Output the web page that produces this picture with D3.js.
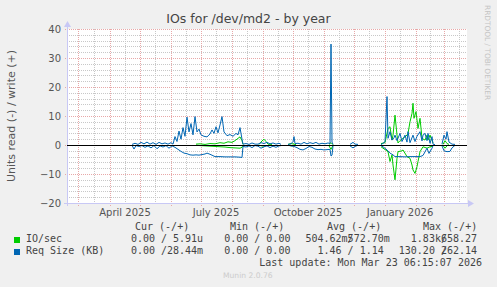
<!DOCTYPE html>
<html><head><meta charset="utf-8">
<script src="https://cdn.jsdelivr.net/npm/d3@7"></script>
<style>body{margin:0;background:#f0f0f0}svg{display:block}</style>
</head><body><svg id="c" width="497" height="287"></svg>
<script>
// ---- data (day offsets from the graph start, 2025-02-17 12:00 UTC) ----
const startDate = "2025-02-17T12:00:00Z";
const spanDays = 400;
const yTicks = [-20, -10, 0, 10, 20, 30, 40];
const xLabelDates = ["2025-04-16", "2025-07-16", "2025-10-16", "2026-01-16"];

const ioWriteDays = [129,133,138,143,148,153,157,161,165,168,171,173,175,176,177, 192,195,197,199,201,205,206, 221,224,227,229,230, 262,264,266,267, 314,318,321,323,325,326,328,330,331,333,336,340,341,343,345,346,347,349,351,353,355,358,360,361,363,366,367, 376,378,380,382];
const ioWriteVals = [0.3,0.4,0.2,0.5,0.4,0.8,0.6,1.1,0.9,1.5,2.3,2.8,1.5,0.2,null, 0.2,1.4,2.0,1.2,0.3,0.2,null, 0.2,0.5,0.3,0.1,null, 0.2,0.8,0.1,null, 0.5,0.8,5.7,6.3,1.7,3.4,10.3,3.4,0.7,1.5,2.3,3.4,4.0,8.0,10.9,14.4,9.2,11.5,5.7,9.2,2.3,1.7,3.4,1.7,3.4,0.7,null, 0.2,1.5,0.5,0.2];

const ioReadDays = [129,133,138,143,148,153,158,163,168,173,175,176,177, 192,196,199,203,204, 221,225,228,229, 262,264,266,267, 314,321,323,325,326,328,330,331,335,336,340,343,345,346,348,350,351,353,356,360,363,366,367, 376,378,380];
const ioReadVals = [0.1,0.2,0.3,0.4,0.5,0.6,0.7,0.9,1.0,1.1,0.8,0.0,null, 0.1,0.4,0.2,0.1,null, 0.1,0.3,0.1,null, 0.3,1.5,0.1,null, 0.6,2.3,5.7,3.4,6.9,12.0,4.6,2.3,2.0,1.7,4.0,4.6,6.9,8.6,9.8,7.5,5.7,2.3,0.6,1.1,0.6,0.4,null, 0.2,1.1,0.3];

const reqWriteDays = [65,68,71,74,77,80,83,86,89,92,95,98,101,104,106,108,110,112,114,116,118,120,122,124,126,128,130,132,134,137,140,143,145,147,149,151,153,155,157,160,163,166,169,171,173,175,176,179,182,185,188,191,194,197,200,203,206,209,212,214,215, 221,224,226,227,228,231,234,237,240,243,246,249,252,255,258,261,263,264,265,266,267, 283,286,288,291,292, 314,316,318,320,321,323,325,327,328,330,333,335,338,340,341,343,346,348,350,353,355,356,358,360,361,363,365,366,368,369, 375,377,379,380,382,385,388];
const reqWriteVals = [0.2,0.6,0.2,0.9,0.4,1.0,0.3,0.8,0.2,0.9,0.4,0.7,0.3,0.8,0.3,2.9,1.2,4.8,2.0,6.0,3.0,9.6,4.5,7.4,3.5,9.8,4.5,5.5,3.5,3.0,2.8,3.8,5.2,4.0,6.3,4.2,6.9,9.8,4.5,3.2,3.6,3.0,4.0,3.5,6.0,2.0,0.3,0.5,0.2,0.7,0.3,0.3,0.8,0.5,0.9,0.4,0.7,0.3,0.6,0.2,null, 0.2,0.4,1.2,2.9,0.5,0.6,0.3,0.9,0.4,0.8,0.5,0.9,0.3,0.6,0.4,0.7,0.5,34.8,1.0,0.2,null, 0.2,0.9,0.3,0.2,null, 0.1,0.6,1.1,16.7,2.3,4.6,1.7,2.5,3.4,1.5,4.0,1.2,3.4,1.0,4.6,0.8,3.4,1.2,3.0,4.6,1.4,3.4,4.0,1.5,4.0,0.6,2.9,0.3,0.1,null, 0.3,3.4,2.0,4.6,1.0,0.3,0.2];

const reqReadDays = [65,67,69,72,75,78,81,84,87,90,93,96,99,102,105,108,111,114,117,120,123,126,129,132,135,138,140,143,148,153,158,163,168,173,175,176,179,182,185,188,191,194,197,200,203,206,209,212,214,215, 221,224,227,230,233,236,239,242,245,248,251,254,257,260,263,264,265,266,267, 283,286,288,291,292, 314,316,320,323,326,328,333,338,343,348,353,356,360,362,365,366,367, 375,377,380,383,385,388];
const reqReadVals = [0.1,1.4,0.2,0.5,0.2,0.8,0.3,1.0,0.2,1.3,0.3,0.7,0.2,1.1,0.3,0.8,1.5,2.2,2.8,3.0,3.4,3.5,3.4,3.5,3.3,3.1,2.8,3.2,4.0,4.0,4.1,4.1,4.1,4.2,4.3,0.5,0.7,0.3,0.9,0.2,0.4,1.1,0.6,0.3,0.9,0.4,0.8,0.3,0.2,null, 0.1,0.3,0.5,0.9,1.5,1.7,1.2,0.5,0.8,1.4,1.6,1.5,1.7,1.6,1.5,3.8,3.5,0.3,null, 0.3,1.0,0.5,0.1,null, 0.2,0.6,1.7,2.8,3.4,4.0,4.0,4.1,4.0,4.0,4.0,3.6,1.1,2.9,1.1,0.2,null, 0.3,2.0,2.3,2.2,1.0,0.1];

const seriesNames = ["IO/sec", "Req Size (KB)"];
const seriesColors = ["#00cc00", "#0066b3"];
const statHeads = ["Cur (-/+)", "Min (-/+)", "Avg (-/+)", "Max (-/+)"];
const ioReadStats = ["0.00", "0.00", "504.62m", "1.83k"];
const ioWriteStats = ["5.91u", "0.00", "572.70m", "658.27"];
const reqReadStats = ["0.00", "0.00", "1.46", "130.20"];
const reqWriteStats = ["28.44m", "0.00", "1.14", "262.14"];
const lastUpdate = "Last update: Mon Mar 23 06:15:07 2026";

// ---- drawing ----
const svg = d3.select("#c");
const W = 497, H = 287;
const L = 67, R = 467, T = 29, B = 203;
const sans = "DejaVu Sans", mono = "DejaVu Sans Mono";

svg.append("rect").attr("width", W).attr("height", H).attr("fill", "#f0f0f0");
svg.append("rect").attr("x", L).attr("y", T).attr("width", R - L).attr("height", B - T).attr("fill", "#ffffff");

const t0 = new Date(startDate);
const t1 = d3.utcDay.offset(t0, spanDays);
const x = d3.scaleUtc().domain([t0, t1]).range([L, R]);
const y = d3.scaleLinear().domain([-20, 40]).range([B, T]);
const dayToDate = d => d3.utcDay.offset(t0, d);
const px = v => Math.round(v) + 0.5;

// grid
const g = svg.append("g");
const minorY = d3.range(-20, 41, 2).filter(v => v % 10 !== 0);
g.selectAll(".hm").data(minorY).join("line")
  .attr("x1", L).attr("x2", R).attr("y1", d => px(y(d))).attr("y2", d => px(y(d)))
  .attr("stroke", "#c8c8c8").attr("stroke-dasharray", "1,1");
const months = d3.utcMonth.range(t0, t1);
const halves = d3.utcMonth.range(d3.utcMonth.offset(t0, -1), t1).map(m => d3.utcDay.offset(m, 15))
  .filter(d => d >= t0 && d <= t1);
g.selectAll(".vm").data(halves).join("line")
  .attr("y1", T).attr("y2", B + 2).attr("x1", d => px(x(d))).attr("x2", d => px(x(d)))
  .attr("stroke", "#c8c8c8").attr("stroke-dasharray", "1,1");
g.selectAll(".hM").data(yTicks).join("line")
  .attr("x1", L - 2).attr("x2", R).attr("y1", d => px(y(d))).attr("y2", d => px(y(d)))
  .attr("stroke", "#e8a8a8").attr("stroke-dasharray", "1,1");
g.selectAll(".vM").data(months).join("line")
  .attr("y1", T).attr("y2", B + 3).attr("x1", d => px(x(d))).attr("x2", d => px(x(d)))
  .attr("stroke", "#e8a8a8").attr("stroke-dasharray", "1,1");

// axes
const axisCol = "#c8c8f5";
svg.append("line").attr("x1", L - 3).attr("x2", R + 3).attr("y1", B + 0.5).attr("y2", B + 0.5).attr("stroke", axisCol);
svg.append("line").attr("x1", L + 0.5).attr("x2", L + 0.5).attr("y1", B + 3).attr("y2", T - 3).attr("stroke", axisCol);
svg.append("path").attr("d", `M${R + 1},${B - 3}L${R + 7},${B + 0.5}L${R + 1},${B + 4}Z`).attr("fill", axisCol);
svg.append("path").attr("d", `M${L - 3},${T - 2}L${L + 0.5},${T - 8}L${L + 4},${T - 2}Z`).attr("fill", axisCol);

const yAx = svg.append("g").attr("transform", `translate(${L},0)`)
  .call(d3.axisLeft(y).tickValues(yTicks).tickSize(0).tickPadding(6));
yAx.select(".domain").remove();
yAx.selectAll("text").attr("font-family", sans).attr("font-size", 10).attr("fill", "#555");

const xAx = svg.append("g").attr("transform", `translate(0,${B})`)
  .call(d3.axisBottom(x).tickValues(xLabelDates.map(s => new Date(s + "T00:00:00Z")))
    .tickFormat(d3.utcFormat("%B %Y")).tickSize(0).tickPadding(5.5));
xAx.select(".domain").remove();
xAx.selectAll("text").attr("font-family", sans).attr("font-size", 10).attr("fill", "#555");

// series
const line = d3.line().defined(d => d[1] != null).x(d => x(dayToDate(d[0]))).y(d => y(d[1]));
const zip = (ds, vs, sign) => ds.map((d, i) => [d, vs[i] == null ? null : sign * vs[i]]);
const plots = [
  [zip(ioReadDays, ioReadVals, -1), seriesColors[0]],
  [zip(ioWriteDays, ioWriteVals, 1), seriesColors[0]],
  [zip(reqReadDays, reqReadVals, -1), seriesColors[1]],
  [zip(reqWriteDays, reqWriteVals, 1), seriesColors[1]],
];
svg.append("g").selectAll("path").data(plots).join("path")
  .attr("d", d => line(d[0])).attr("fill", "none").attr("stroke", d => d[1]).attr("stroke-width", 1)
  .attr("stroke-linejoin", "round");

// zero line
svg.append("line").attr("x1", L).attr("x2", R).attr("y1", px(y(0))).attr("y2", px(y(0))).attr("stroke", "#000");

// title
svg.append("text").attr("x", 248.5).attr("y", 23).attr("text-anchor", "middle")
  .attr("font-family", sans).attr("font-size", 12.5).attr("fill", "#444").text("IOs for /dev/md2 - by year");
svg.append("text").attr("transform", `translate(15,${(T + B) / 2}) rotate(-90)`).attr("text-anchor", "middle")
  .attr("font-family", sans).attr("font-size", 11).attr("fill", "#555").text("Units read (-) / write (+)");
svg.append("text").attr("transform", "translate(485,5) rotate(90)")
  .attr("font-family", sans).attr("font-size", 7.4).attr("fill", "#c4c4c4").text("RRDTOOL / TOBI OETIKER");

// legend
const cw = 6.02;
const slashX = [0, 1, 2, 3].map(k => 161 + k * 15.5 * cw);
const headX = [135, 230, 327, 423];
const rowY = [230, 242, 254, 266];
const lg = svg.append("g").attr("font-family", mono).attr("font-size", 10).attr("fill", "#444");
statHeads.forEach((h, k) => lg.append("text").attr("x", headX[k]).attr("y", rowY[0]).text(h));
const piece = s => (/[0-9]$/.test(s) ? s + " " : s).padStart(6, " ");
function putRight(str, endX, yy) {
  const lead = str.length - str.trimStart().length;
  lg.append("text").attr("x", endX - str.length * cw + lead * cw).attr("y", yy).text(str.trim());
}
[[ioReadStats, ioWriteStats], [reqReadStats, reqWriteStats]].forEach((pair, r) => {
  const yy = rowY[r + 1];
  svg.append("rect").attr("x", 14).attr("y", yy - 5).attr("width", 6).attr("height", 6).attr("fill", seriesColors[r]);
  lg.append("text").attr("x", 26).attr("y", yy).text(seriesNames[r]);
  for (let k = 0; k < 4; k++) {
    putRight(piece(pair[0][k]), slashX[k], yy);
    lg.append("text").attr("x", slashX[k]).attr("y", yy).text("/");
    putRight(piece(pair[1][k]), slashX[k] + 7 * cw, yy);
  }
});
lg.append("text").attr("x", 482).attr("y", rowY[3]).attr("text-anchor", "end").text(lastUpdate);
svg.append("text").attr("x", 223).attr("y", 278).attr("font-family", sans).attr("font-size", 7.6)
  .attr("fill", "#cccccc").text("Munin 2.0.76");
</script></body></html>
